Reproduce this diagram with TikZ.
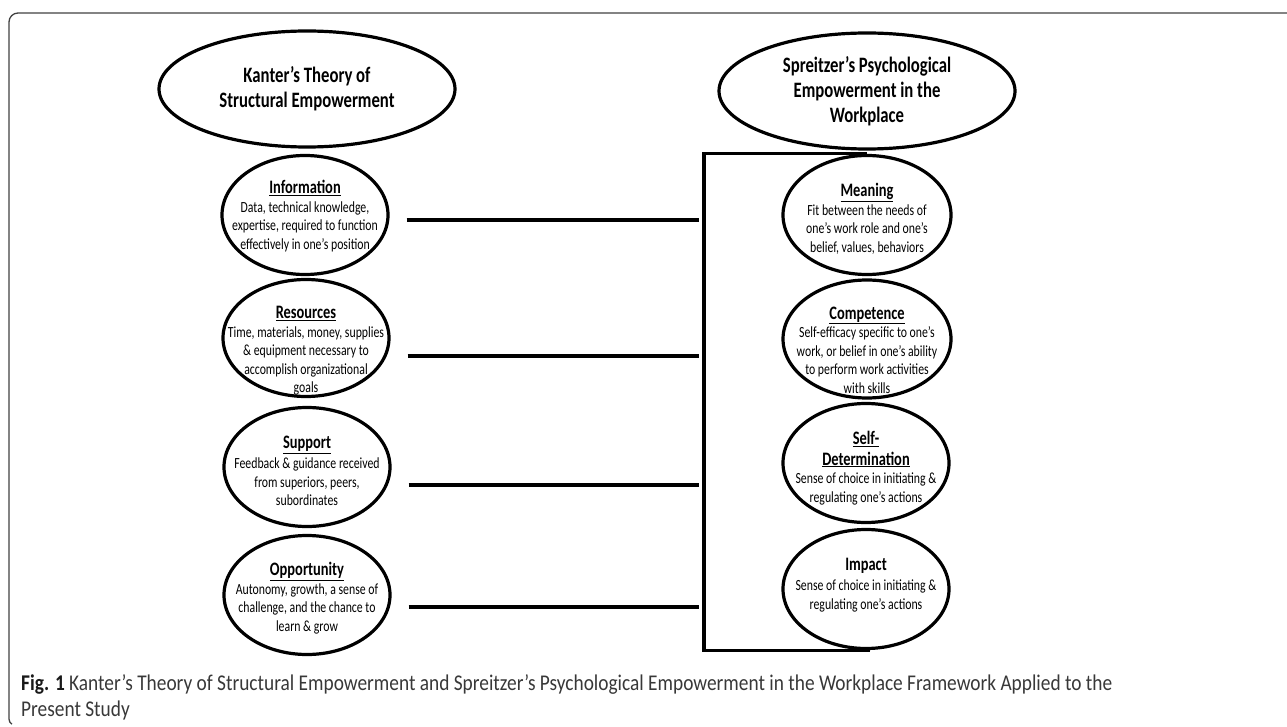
\documentclass[tikz,border=0pt]{standalone}
\usepackage{fontspec}
\setmainfont{Carlito}
\newfontfamily\dgfont[FakeStretch=0.76]{Carlito}
\newfontfamily\capfont[FakeStretch=0.86]{Carlito}
\usetikzlibrary{shapes.geometric,positioning}
\newcommand\ellhead[1]{{\fontsize{19}{21}\selectfont\bfseries\underline{#1}}}

\begin{document}
\begin{tikzpicture}[x=1pt,y=-1pt,
  bigell/.style={draw,ellipse,line width=3.2pt,minimum width=296pt,minimum height=116pt,
    inner sep=0pt,align=center,font=\dgfont\fontsize{22}{25}\selectfont\bfseries},
  smell/.style={draw,ellipse,line width=3.2pt,minimum width=166pt,minimum height=119pt,inner sep=0pt},
  txt/.style={align=center,inner sep=0pt,font=\dgfont\fontsize{15.5}{18.5}\selectfont},
  link/.style={line width=3.2pt}]
 \useasboundingbox (0,0) rectangle (1287,727);
 \draw[line width=1.3pt,black!75] (1287,13) -- (18,13) arc[start angle=90,end angle=180,radius=9pt]
   -- (9,719) arc[start angle=180,end angle=240,radius=6pt];
 % titles
 \node[bigell] (kant) at (307,89) {Kanter’s Theory of\\Structural Empowerment};
 \node[bigell] (spre) at (867,91) {Spreitzer’s Psychological\\Empowerment in the\\Workplace};
 % left column
 \node[smell] (info) at (305,215) {};
 \node[smell,minimum height=117pt] (res) at (306,338) {};
 \node[smell] (sup) at (307,467) {};
 \node[smell] (opp) at (307,595) {};
 \node[txt] (info-t) at ([yshift=-1pt]info) {\ellhead{Information}\\Data, technical knowledge,\\expertise, required to function\\effectively in one’s position};
 \node[txt] (res-t) at ([yshift=-13pt]res) {\ellhead{Resources}\\Time, materials, money, supplies\\\& equipment necessary to\\accomplish organizational\\goals};
 \node[txt] (sup-t) at ([yshift=-4pt]sup) {\ellhead{Support}\\[2pt]Feedback \& guidance received\\from superiors, peers,\\subordinates};
 \node[txt] (opp-t) at ([yshift=-3pt]opp) {\ellhead{Opportunity}\\Autonomy, growth, a sense of\\challenge, and the chance to\\learn \& grow};
 % right column
 \node[smell,minimum width=168pt] (mean) at (867,215) {};
 \node[smell,minimum width=168pt,minimum height=118pt] (comp) at (867,339) {};
 \node[smell] (self) at (866,463) {};
 \node[smell] (imp) at (866,589) {};
 \node[txt] (mean-t) at ([yshift=-4pt]mean) {\ellhead{Meaning}\\Fit between the needs of\\one’s work role and one’s\\belief, values, behaviors};
 \node[txt] (comp-t) at ([yshift=-11pt]comp) {\ellhead{Competence}\\Self-efficacy specific to one’s\\work, or belief in one’s ability\\to perform work activities\\with skills};
 \node[txt] (self-t) at ([yshift=-5pt]self) {\ellhead{Self-}\\[2pt]\ellhead{Determination}\\Sense of choice in initiating \&\\regulating one’s actions};
 \node[txt] (imp-t) at ([yshift=4pt]imp) {{\fontsize{19}{21}\selectfont\bfseries Impact}\\[2pt]Sense of choice in initiating \&\\regulating one’s actions};
 % bracket and links
 \coordinate (br) at (704,0);
 \draw[link] (mean.north) -- (mean.north -| br) -- (imp.south -| br) -- ([xshift=4pt]imp.south);
 \foreach \n/\dy in {info/-5,res/-18,sup/-18,opp/-12}
  \draw[link] ([xshift=17pt,yshift=\dy pt]\n.east) -- ([xshift=-5pt,yshift=\dy pt]\n.east -| br);
 % caption
 \node[anchor=base west,align=left,inner sep=0pt,text=black!78,
   font=\capfont\fontsize{22.5}{26}\selectfont] (cap) at (21,716)
  {{\bfseries\color{black!90}Fig. 1} Kanter’s Theory of Structural Empowerment and Spreitzer’s Psychological Empowerment in the Workplace Framework Applied to the\\Present Study};
\end{tikzpicture}
\end{document}
